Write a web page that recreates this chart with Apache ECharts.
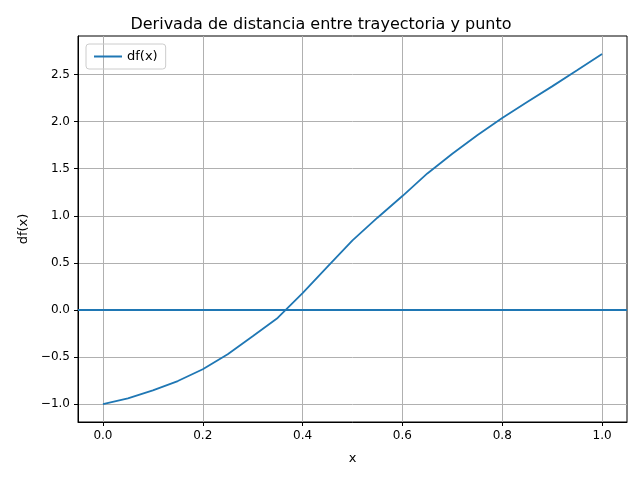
<!DOCTYPE html>
<html><head><meta charset="utf-8">
<script src="https://cdn.jsdelivr.net/npm/echarts@6/dist/echarts.min.js"></script>
<style>html,body{margin:0;padding:0;background:#fff}#c{width:642px;height:480px}</style>
</head><body><div id="c"></div>
<script>
const xs = [0,0.05,0.1,0.15,0.2,0.25,0.3,0.35,0.4,0.45,0.5,0.55,0.6,0.65,0.7,0.75,0.8,0.85,0.9,0.95,1.0];
const dfx = [-1.0,-0.94,-0.855,-0.755,-0.63,-0.47,-0.28,-0.085,0.18,0.46,0.74,0.98,1.21,1.45,1.66,1.855,2.04,2.21,2.375,2.545,2.72];
const xTicks = [0,0.2,0.4,0.6,0.8,1.0];
const yTicks = [-1.0,-0.5,0,0.5,1.0,1.5,2.0,2.5];
const fmt = v => (v<0?'\u2212':'') + Math.abs(v).toFixed(1);
const chart = echarts.init(document.getElementById('c'));
const font = 'DejaVu Sans';
chart.setOption({
  animation:false,
  title:{text:'Derivada de distancia entre trayectoria y punto',left:'center',top:12,textStyle:{fontFamily:font,fontSize:16,fontWeight:'normal',color:'#000'}},
  legend:{data:['df(x)'],left:86,top:44,orient:'vertical',itemWidth:28,itemHeight:2,
    icon:'rect',textStyle:{fontFamily:font,fontSize:13,color:'#000'},
    borderColor:'#ccc',borderWidth:1,borderRadius:3,padding:[6,8]},
  grid:{left:78,right:15,top:36,bottom:58,show:true,borderColor:'#000',borderWidth:1},
  xAxis:{type:'value',min:-0.05,max:1.05,name:'x',nameLocation:'middle',nameGap:30,
    nameTextStyle:{fontFamily:font,fontSize:13,color:'#000'},
    axisLine:{show:true,onZero:false,lineStyle:{color:'#000'}},
    axisTick:{show:true,inside:false,length:4,customValues:xTicks,lineStyle:{color:'#000'}},
    axisLabel:{customValues:xTicks,formatter:fmt,fontFamily:font,fontSize:12,color:'#000',margin:8},
    splitLine:{show:true,lineStyle:{color:'#b0b0b0',width:1}}},
  yAxis:{type:'value',min:-1.19,max:2.91,name:'df(x)',nameLocation:'middle',nameGap:47,
    nameTextStyle:{fontFamily:font,fontSize:13,color:'#000'},
    axisLine:{show:true,onZero:false,lineStyle:{color:'#000'}},
    axisTick:{show:true,inside:false,length:4,customValues:yTicks,lineStyle:{color:'#000'}},
    axisLabel:{customValues:yTicks,formatter:fmt,fontFamily:font,fontSize:12,color:'#000',margin:8},
    splitLine:{show:true,lineStyle:{color:'#b0b0b0',width:1}}},
  series:[
    {name:'df(x)',type:'line',data:xs.map((x,i)=>[x,dfx[i]]),symbol:'none',lineStyle:{color:'#1f77b4',width:1.8},itemStyle:{color:'#1f77b4'},
     markLine:{silent:true,symbol:'none',label:{show:false},lineStyle:{color:'#1f77b4',width:1.8,type:'solid'},data:[{yAxis:0}]}}
  ]
});
</script></body></html>
